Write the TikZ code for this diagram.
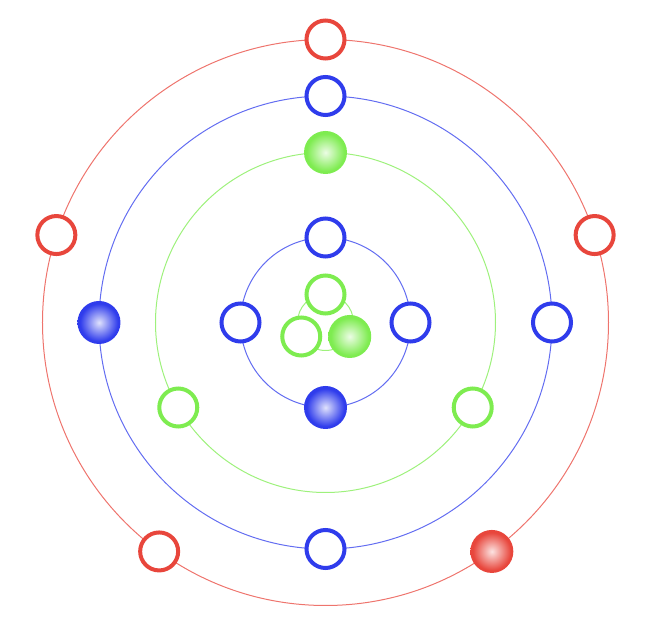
\documentclass[tikz,border=0pt]{standalone}
\usepackage{xcolor}
\usepackage{tikz}
\definecolor{shellRed}{HTML}{E8463C}
\definecolor{shellBlue}{HTML}{2F3CEC}
\definecolor{shellGreen}{HTML}{7EEC50}
\pgfdeclareradialshading{redglow}{\pgfpointorigin}{color(0bp)=(white!85!shellRed); color(22bp)=(shellRed); color(50bp)=(shellRed)}
\pgfdeclareradialshading{blueglow}{\pgfpointorigin}{color(0bp)=(white!85!shellBlue); color(22bp)=(shellBlue); color(50bp)=(shellBlue)}
\pgfdeclareradialshading{greenglow}{\pgfpointorigin}{color(0bp)=(white!85!shellGreen); color(22bp)=(shellGreen); color(50bp)=(shellGreen)}

\begin{document}
\begin{tikzpicture}[x=1pt, y=1pt,
  orbit/.style={draw=#1!75, line width=1pt},
  hole/.style={circle, draw=#1, line width=4pt, fill=white, minimum size=38pt, inner sep=0pt},
  electron/.style={circle, shading=#1glow, minimum size=43pt, inner sep=0pt}]
\useasboundingbox (-325.5,-305.5) rectangle (330.5,322.5);
% orbits
\draw[orbit=shellRed] (0,0) circle (283);
\draw[orbit=shellBlue] (0,0) circle (226.5);
\draw[orbit=shellGreen] (0,0) circle (170);
\draw[orbit=shellBlue] (0,0) circle (85);
\draw[orbit=shellGreen] (0,0) circle (28);
% outer red shell
\foreach \a/\n in {90/1, 162/2, 18/3, 234/4}
  \node[hole=shellRed] (red\n) at (\a:283) {};
\node[electron=red] (red5) at (306:283) {};
% blue shell
\foreach \a/\n in {90/1, 0/3, 270/4}
  \node[hole=shellBlue] (blue\n) at (\a:226.5) {};
\node[electron=blue] (blue2) at (180:226.5) {};
% green shell
\foreach \a/\n in {210/2, 330/3}
  \node[hole=shellGreen] (green\n) at (\a:170) {};
\node[electron=green] (green1) at (90:170) {};
% inner blue shell
\foreach \a/\n in {90/1, 180/2, 0/3}
  \node[hole=shellBlue] (core\n) at (\a:85) {};
\node[electron=blue] (core4) at (270:85) {};
% innermost green shell
\foreach \a/\n in {90/1, 210/2}
  \node[hole=shellGreen] (inner\n) at (\a:28) {};
\node[electron=green] (inner3) at (330:28) {};
\end{tikzpicture}
\end{document}
